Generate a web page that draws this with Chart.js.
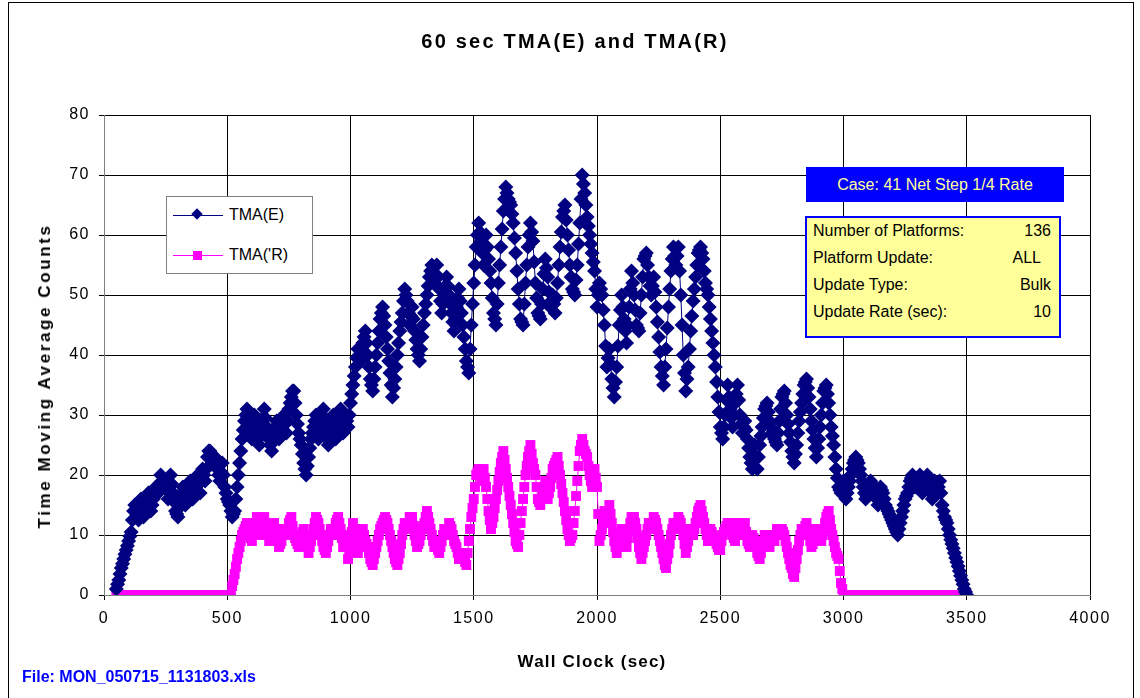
<!DOCTYPE html>
<html>
<head>
<meta charset="utf-8">
<script src="https://cdn.jsdelivr.net/npm/chart.js@4"></script>
<style>
  body { margin: 0; background: #fff; font-family: "Liberation Sans", Arial, sans-serif; }
  #wrap { position: relative; width: 1140px; height: 698px; overflow: hidden; }
  #frame { position: absolute; left: 8px; top: 2px; width: 1124px; height: 740px; border: 1px solid #000; }
  canvas { position: absolute; left: 0; top: 0; }
  .title { position: absolute; left: 0; width: 1150px; top: 30px; text-align: center; font-weight: bold; font-size: 20px; letter-spacing: 2.2px; }
  .xtitle { position: absolute; left: 0; width: 1184px; top: 652px; text-align: center; font-weight: bold; font-size: 17px; letter-spacing: 1.2px; }
  .ytitle { position: absolute; left: 45px; top: 376px; transform: translate(-50%, -50%) rotate(-90deg); white-space: nowrap;
            font-weight: bold; font-size: 17px; letter-spacing: 2.6px; }
  .legend { position: absolute; left: 166px; top: 196px; width: 145px; height: 76px; border: 1px solid #808080; background: #fff; }
  .legend .row { position: absolute; left: 6px; height: 20px; font-size: 16px; }
  .legend .swatch { position: absolute; left: 0; top: 9px; width: 50px; height: 1px; }
  .legend .mark { position: absolute; }
  .legend .lbl { position: absolute; left: 56px; top: 0; white-space: nowrap; }
  .case { position: absolute; left: 806px; top: 167px; width: 258px; height: 35px; background: #0000ff; color: #ffff99;
          font-size: 16px; line-height: 35px; text-align: center; }
  .info { position: absolute; left: 805px; top: 216px; width: 252px; height: 118px; background: #ffff99; border: 2px solid #0000ff;
          font-size: 16px; color: #000; }
  .info .ln { position: absolute; left: 6px; right: 8px; height: 20px; }
  .info .ln span:last-child { position: absolute; right: 0; }
  .file { position: absolute; left: 22px; top: 668px; color: #0000ff; font-weight: bold; font-size: 16px; }
</style>
</head>
<body>
<div id="wrap">
  <div id="frame"></div>
  <canvas id="chart" width="1140" height="698"></canvas>

  <div class="title">60 sec TMA(E) and TMA(R)</div>
  <div class="ytitle">Time Moving Average Counts</div>
  <div class="xtitle">Wall Clock (sec)</div>

  <div class="legend">
    <div class="row" style="top:9px">
      <div class="swatch" style="background:#000080"></div>
      <div class="mark" style="left:20px;top:4px;width:8px;height:8px;background:#000080;transform:rotate(45deg)"></div>
      <div class="lbl">TMA(E)</div>
    </div>
    <div class="row" style="top:49px">
      <div class="swatch" style="background:#ff00ff"></div>
      <div class="mark" style="left:20px;top:5px;width:9px;height:9px;background:#ff00ff"></div>
      <div class="lbl">TMA('R)</div>
    </div>
  </div>

  <div class="case">Case: 41 Net Step 1/4 Rate</div>
  <div class="info">
    <div class="ln" style="top:4px"><span>Number of Platforms:</span><span>136</span></div>
    <div class="ln" style="top:31px"><span>Platform Update:</span><span style="right:10px">ALL</span></div>
    <div class="ln" style="top:58px"><span>Update Type:</span><span>Bulk</span></div>
    <div class="ln" style="top:85px"><span>Update Rate (sec):</span><span>10</span></div>
  </div>

  <div class="file">File: MON_050715_1131803.xls</div>
</div>

<script>
// wall clock sampling (sec)
const START_SEC = 50;
const STEP_SEC = 5;

const xTicks = [0, 500, 1000, 1500, 2000, 2500, 3000, 3500, 4000];
const yTicks = [0, 10, 20, 30, 40, 50, 60, 70, 80];

// TMA(E), one value every 5 sec from 50 to 3500 (one row = 100 sec)
const tmaE = [
  1, 1.8, 2.5, 3.5, 4.5, 5.2, 6, 6.8, 7.5, 8.2, 9, 9.8, 10.5, 12.5, 14, 15, 15, 14, 12.5, 14,
  16, 14.5, 13, 14, 15, 16, 17, 15.5, 14, 15, 16, 17, 18, 17.5, 17, 18.5, 20, 19, 18, 18.5,
  19, 17.5, 16, 18, 20, 18.5, 17, 15.5, 14, 13.5, 13, 14.5, 16, 17, 18, 16.5, 15, 16, 17, 18,
  19, 17.5, 16, 17, 18, 19, 20, 18.5, 17, 19, 21, 20, 19, 21, 23, 24, 24, 23, 22, 22.5,
  23, 22, 21, 20, 19, 20.5, 22, 20, 18, 17, 16, 15.5, 15, 14, 13, 13.5, 14, 16, 18, 20,
  22, 24, 26, 27.5, 29, 30, 31, 29.5, 28, 27, 26, 28, 30, 28.5, 27, 26, 25, 26.5, 28, 29.5,
  31, 29.5, 28, 27, 26, 25, 24, 25.5, 27, 28, 29, 27.5, 26, 27, 28, 29, 30, 28.5, 27, 29,
  31, 32, 33, 34, 34, 32, 30, 28.5, 27, 26, 25, 23.5, 22, 21, 20, 21.5, 23, 24.5, 26, 27,
  28, 29, 30, 28, 26, 27.5, 29, 30, 31, 29, 27, 26, 25, 26.5, 28, 29, 30, 28, 26, 27.5,
  29, 30, 31, 29, 27, 28.5, 30, 29, 28, 30, 32, 33.5, 35, 36.5, 38, 39.5, 41, 40, 39, 40.5,
  42, 43, 44, 42, 40, 38, 36, 35, 34, 36, 38, 40, 42, 44, 46, 47, 48, 46.5, 45, 43,
  41, 39, 37, 35, 33, 34.5, 36, 38, 40, 42, 44, 45.5, 47, 49, 51, 50, 49, 47, 45, 46.5,
  48, 46, 44, 42.5, 41, 40, 39, 41, 43, 45, 47, 48.5, 50, 51.5, 53, 54, 55, 53.5, 52, 53.5,
  55, 53, 51, 49, 47, 48.5, 50, 51.5, 53, 51.5, 50, 48.5, 47, 45.5, 44, 46, 48, 49.5, 51, 49,
  47, 45, 43, 41, 39, 38, 37, 41, 45, 48.5, 52, 55, 58, 60, 62, 60.5, 59, 57, 55, 57.5,
  60, 58, 56, 54, 52, 49.5, 47, 46, 45, 48.5, 52, 55, 58, 61, 64, 66, 68, 67, 66, 65.5,
  65, 63.5, 62, 59.5, 57, 54, 51, 48.5, 46, 45.5, 45, 48.5, 52, 55, 58, 60, 62, 60.5, 59, 55.5,
  52, 49.5, 47, 46.5, 46, 48.5, 51, 53.5, 56, 54.5, 53, 50.5, 48, 49, 50, 48.5, 47, 49.5, 52, 55,
  58, 60.5, 63, 64, 65, 62.5, 60, 57.5, 55, 53, 51, 50.5, 50, 52.5, 55, 58.5, 62, 66, 70, 68.5,
  67, 65, 63, 61.5, 60, 58.5, 57, 55.5, 54, 51, 48, 50, 52, 51, 50, 47.5, 45, 41.5, 38, 39.5,
  41, 38.5, 36, 34.5, 33, 35.5, 38, 41.5, 45, 47.5, 50, 48, 46, 44, 42, 45, 48, 51, 54, 52,
  50, 47.5, 45, 44.5, 44, 47, 50, 53, 56, 56.5, 57, 55, 53, 51.5, 50, 51.5, 53, 50.5, 48, 45.5,
  43, 40.5, 38, 36.5, 35, 38, 41, 44.5, 48, 51, 54, 56, 58, 56.5, 55, 56.5, 58, 54, 50, 45,
  40, 37, 34, 36, 38, 41, 44, 46.5, 49, 51, 53, 55, 57, 57.5, 58, 57, 56, 54, 52, 51,
  50, 48, 46, 44, 42, 40, 38, 35.5, 33, 30.5, 28, 27, 26, 28, 30, 32.5, 35, 33, 31, 29.5,
  28, 30, 32, 33.5, 35, 32.5, 30, 28.5, 27, 28, 29, 27.5, 26, 24.5, 23, 22, 21, 23, 25, 23,
  21, 23, 25, 26.5, 28, 29.5, 31, 31.5, 32, 30.5, 29, 28, 27, 26.5, 26, 25.5, 25, 27, 29, 31,
  33, 33.5, 34, 32, 30, 28.5, 27, 25.5, 24, 23, 22, 23.5, 25, 27, 29, 30.5, 32, 33.5, 35, 35.5,
  36, 34.5, 33, 31, 29, 27.5, 26, 24.5, 23, 24.5, 26, 28, 30, 32, 34, 34.5, 35, 33.5, 32, 30,
  28, 26.5, 25, 23, 21, 19.5, 18, 17.5, 17, 18, 19, 17.5, 16, 17, 18, 19, 20, 21, 22, 22.5,
  23, 22.5, 22, 21, 20, 19, 18, 17, 16, 16.5, 17, 18, 19, 18.5, 18, 17.5, 17, 16, 15, 16.5,
  18, 17.5, 17, 16, 15, 14.5, 14, 13.5, 13, 12.5, 12, 11.5, 11, 10.5, 10, 11, 12, 13, 14, 15,
  16, 16.5, 17, 18, 19, 19.5, 20, 19, 18, 18.5, 19, 19.5, 20, 18.5, 17, 18, 19, 19.5, 20, 19,
  18, 17, 16, 17.5, 19, 18, 17, 18, 19, 17, 15, 14, 13, 12.5, 12, 11, 10, 9.2, 8.5, 7.8,
  7, 6.2, 5.5, 4.8, 4, 3.2, 2.5, 1.8, 1, 0.5, 0
];

// TMA('R), same sampling
const tmaR = [
  0, 0, 0, 0, 0, 0, 0, 0, 0, 0, 0, 0, 0, 0, 0, 0, 0, 0, 0, 0,
  0, 0, 0, 0, 0, 0, 0, 0, 0, 0, 0, 0, 0, 0, 0, 0, 0, 0, 0, 0,
  0, 0, 0, 0, 0, 0, 0, 0, 0, 0, 0, 0, 0, 0, 0, 0, 0, 0, 0, 0,
  0, 0, 0, 0, 0, 0, 0, 0, 0, 0, 0, 0, 0, 0, 0, 0, 0, 0, 0, 0,
  0, 0, 0, 0, 0, 0, 0, 0, 0, 0, 0, 0, 0, 0, 1.5, 2.5, 3.5, 4.7, 6, 7,
  8, 9, 10, 10.5, 11, 11.5, 12, 11, 10, 9.5, 9, 10, 11, 12, 13, 12.5, 12, 11, 10, 11.5,
  13, 12, 11, 10, 9, 9.5, 10, 11, 12, 11, 10, 9, 8, 8.5, 9, 10, 11, 10.5, 10, 11,
  12, 12.5, 13, 11.5, 10, 9.5, 9, 8.5, 8, 9, 10, 10.5, 11, 10, 9, 8, 7, 8, 9, 10,
  11, 12, 13, 12.5, 12, 11, 10, 9, 8, 7.5, 7, 8, 9, 10, 11, 10.5, 10, 11, 12, 12.5,
  13, 12, 11, 9.5, 8, 9, 10, 8, 6, 7.5, 9, 10.5, 12, 11, 10, 8.5, 7, 8, 9, 10,
  11, 10, 9, 8.5, 8, 7, 6, 5.5, 5, 6, 7, 8, 9, 10, 11, 11.5, 12, 12.5, 13, 12.5,
  12, 11, 10, 9, 8, 7, 6, 5.5, 5, 6, 7, 8.5, 10, 11, 12, 11.5, 11, 12, 13, 13,
  13, 11.5, 10, 9, 8, 8.5, 9, 10, 11, 11.5, 12, 13, 14, 13, 12, 11, 10, 9, 8, 8,
  8, 7.5, 7, 8, 9, 10, 11, 10.5, 10, 11, 12, 11.5, 11, 10, 9, 8.5, 8, 7, 6, 6.5,
  7, 6.5, 6, 5.5, 5, 7, 9, 11, 13, 14.5, 16, 18, 20, 20.5, 21, 20, 19, 20, 21, 19.5,
  18, 16, 14, 12.5, 11, 12, 13, 14.5, 16, 17.5, 19, 20.5, 22, 23, 24, 22.5, 21, 19.5, 18, 16.5,
  15, 13.5, 12, 10.5, 9, 8.5, 8, 10, 12, 14, 16, 18, 20, 21.5, 23, 24, 25, 23.5, 22, 21,
  20, 18, 16, 15.5, 15, 16, 17, 18, 19, 17.5, 16, 17, 18, 19.5, 21, 21.5, 22, 22.5, 23, 21.5,
  20, 18.5, 17, 15.5, 14, 12.5, 11, 10, 9, 9.5, 10, 12, 14, 16.5, 19, 21.5, 24, 25, 26, 25,
  24, 23.5, 23, 21.5, 20, 19, 18, 19.5, 21, 19.5, 18, 13.5, 9, 10, 11, 12.5, 14, 13, 12, 13.5,
  15, 13.5, 12, 10.5, 9, 8, 7, 8, 9, 10, 11, 10.5, 10, 9, 8, 9.5, 11, 12, 13, 13,
  13, 12, 11, 9.5, 8, 7, 6, 7, 8, 9, 10, 11, 12, 11.5, 11, 12, 13, 12.5, 12, 11,
  10, 9, 8, 7, 6, 5, 4.5, 6, 7, 8.5, 10, 11, 12, 11.5, 11, 12, 13, 12.5, 12, 11,
  10, 8.5, 7, 8, 9, 10, 11, 10.5, 10, 11, 12, 13, 14, 14.5, 15, 14, 13, 12, 11, 10,
  9, 10, 11, 10.5, 10, 9.5, 9, 8.5, 8, 7.5, 7.5, 9, 10, 10.5, 11, 11.5, 12, 12, 12, 11,
  10, 9.5, 9, 10, 11, 11.5, 12, 11, 10, 11, 12, 10.5, 9, 8.5, 8, 9, 10, 9.5, 9, 8,
  7, 6.5, 6, 7, 8, 9, 10, 9.5, 9, 8.5, 8, 9, 10, 9.5, 9, 10, 11, 10.5, 10, 10.5,
  11, 10.5, 10, 9, 8, 7, 6, 5, 4.5, 3.5, 3, 4.5, 6, 7.5, 9, 10, 11, 11, 11, 11.5,
  12, 11, 10, 9, 8, 8.5, 9, 10, 11, 10.5, 10, 9.5, 9, 10, 11, 12, 13, 13.5, 14, 12.5,
  11, 10, 9, 8, 7, 6.5, 6, 4, 2, 1, 0, 0, 0, 0, 0, 0, 0, 0, 0, 0,
  0, 0, 0, 0, 0, 0, 0, 0, 0, 0, 0, 0, 0, 0, 0, 0, 0, 0, 0, 0,
  0, 0, 0, 0, 0, 0, 0, 0, 0, 0, 0, 0, 0, 0, 0, 0, 0, 0, 0, 0,
  0, 0, 0, 0, 0, 0, 0, 0, 0, 0, 0, 0, 0, 0, 0, 0, 0, 0, 0, 0,
  0, 0, 0, 0, 0, 0, 0, 0, 0, 0, 0, 0, 0, 0, 0, 0, 0, 0, 0, 0,
  0, 0, 0, 0, 0, 0, 0, 0, 0, 0, 0
];

const FONT = "'Liberation Sans', Arial, sans-serif";

function toPoints(values) {
  return values.map((v, i) => ({ x: START_SEC + i * STEP_SEC, y: v }));
}

// Excel spreads its digits a little wider than the canvas does
const tickSpacing = {
  id: "tickSpacing",
  beforeDraw(chart) {
    chart.ctx.letterSpacing = "1.5px";
  },
};

new Chart(document.getElementById("chart"), {
  type: "line",
  data: {
    datasets: [
      {
        label: "TMA(E)",
        data: toPoints(tmaE),
        borderColor: "#000080",
        backgroundColor: "#000080",
        borderWidth: 1,
        pointStyle: "rectRot",
        pointRadius: 7.5,
        pointBorderWidth: 0,
      },
      {
        label: "TMA('R)",
        data: toPoints(tmaR),
        borderColor: "#ff00ff",
        backgroundColor: "#ff00ff",
        borderWidth: 1,
        pointStyle: "rect",
        pointRadius: 7,
        pointBorderWidth: 0,
      },
    ],
  },
  plugins: [tickSpacing],
  options: {
    responsive: false,
    animation: false,
    layout: { padding: { left: 20, right: 50, top: 115, bottom: 0 } },
    plugins: {
      legend: { display: false },
      tooltip: { enabled: false },
    },
    scales: {
      x: {
        type: "linear",
        min: 0,
        max: 4000,
        afterFit: (s) => { s.height = 103; },
        afterBuildTicks: (s) => { s.ticks = xTicks.map((v) => ({ value: v })); },
        grid: { color: "#000", tickLength: 5 },
        border: { color: "#808080" },
        ticks: {
          color: "#000",
          padding: 9,
          maxRotation: 0,
          font: { family: FONT, size: 16 },
          callback: (v) => String(v),
        },
      },
      y: {
        min: 0,
        max: 80,
        afterFit: (s) => { s.width = 84; },
        afterBuildTicks: (s) => { s.ticks = yTicks.map((v) => ({ value: v })); },
        grid: { color: "#000", tickLength: 5 },
        border: { color: "#808080" },
        ticks: { color: "#000", padding: 9, font: { family: FONT, size: 16 } },
      },
    },
  },
});
</script>
</body>
</html>
